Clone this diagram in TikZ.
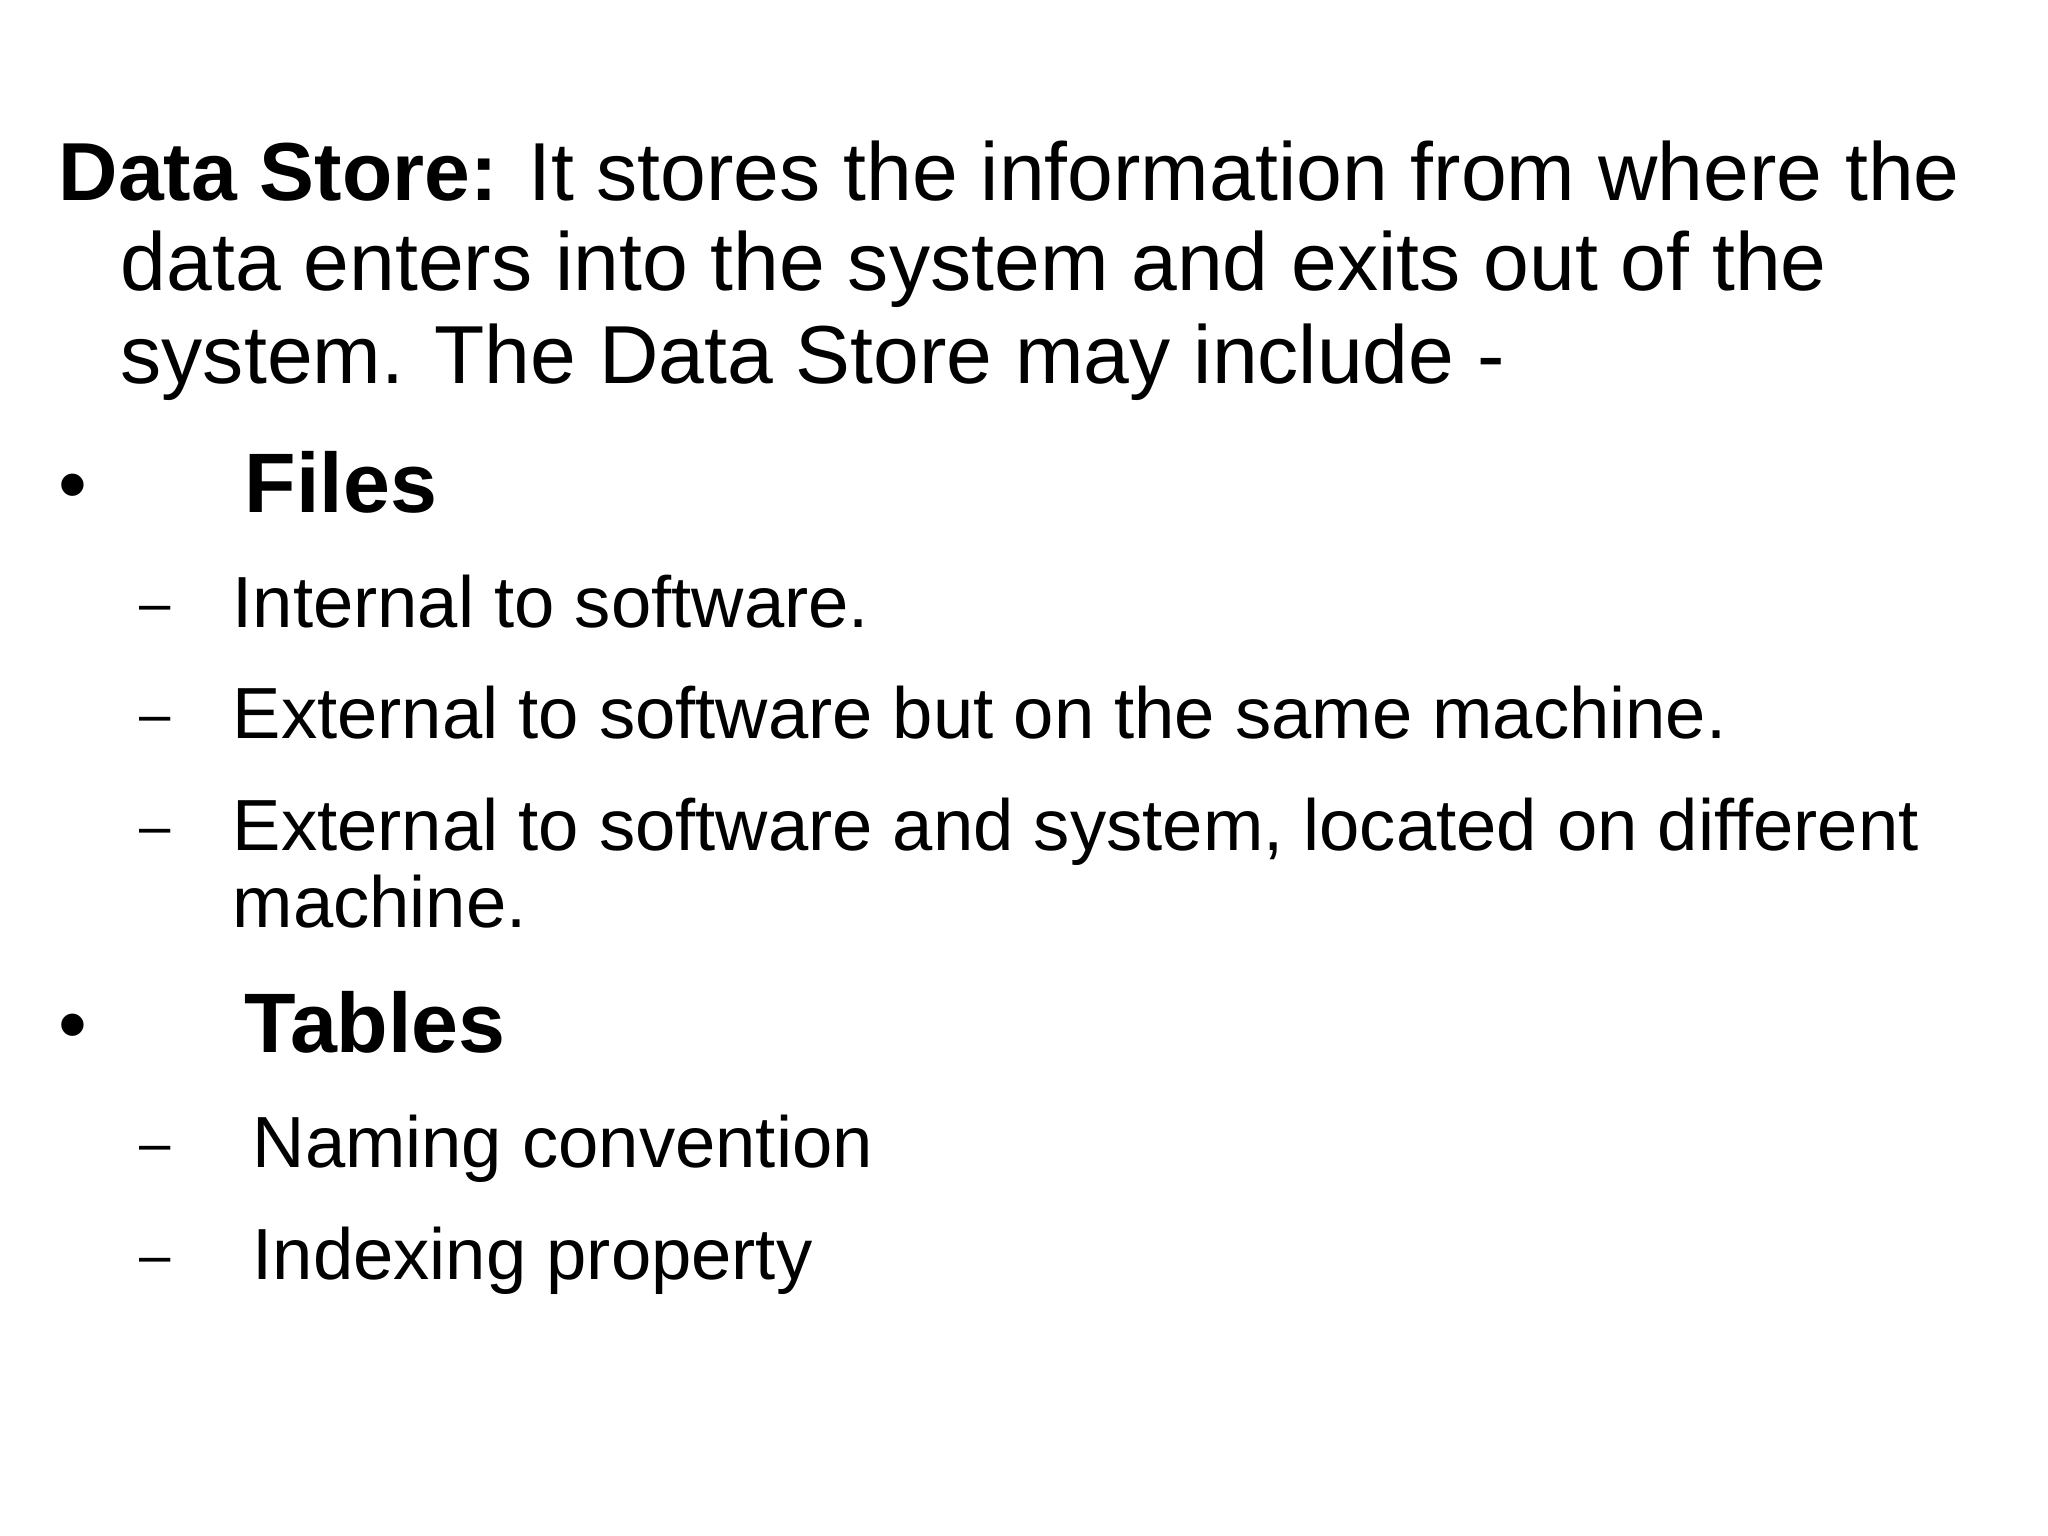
\documentclass[tikz,border=0pt]{standalone}
\usepackage{fontspec}
\setmainfont{Liberation Sans}
\begin{document}
\begin{tikzpicture}[x=0.01cm,y=-0.01cm,
  txt/.style={anchor=base west,inner sep=0pt,font=\fontsize{23.4}{27}\selectfont},
  hd/.style={anchor=base west,inner sep=0pt,font=\fontsize{24}{28}\bfseries\selectfont},
  sub/.style={anchor=base west,inner sep=0pt,font=\fontsize{20.6}{24}\selectfont},
  dsh/.style={anchor=base west,inner sep=0pt,font=\fontsize{16}{20}\selectfont}]
\useasboundingbox (0,0) rectangle (2048,1536);
\node[txt] (l1) at (58,200) {\textbf{Data Store:} It stores the information from where the};
\node[txt] (l2) at (120,290) {data enters into the system and exits out of the};
\node[txt] (l3) at (120,383) {system. The Data Store may include -};
\node[txt] (b1) at (58,512) {•};
\node[hd] (f) at (244,512) {Files};
\node[dsh] (d1) at (139,622) {–};
\node[sub] (f1) at (232,627) {Internal to software.};
\node[dsh] (d2) at (139,733) {–};
\node[sub] (f2) at (232,738) {External to software but on the same machine.};
\node[dsh] (d3) at (139,845) {–};
\node[sub] (f3) at (232,850) {External to software and system, located on different};
\node[sub] (f3b) at (232,927) {machine.};
\node[txt] (b2) at (58,1052) {•};
\node[hd] (t) at (244,1052) {Tables};
\node[dsh] (d4) at (139,1162) {–};
\node[sub] (t1) at (252,1167) {Naming convention};
\node[dsh] (d5) at (139,1274) {–};
\node[sub] (t2) at (252,1279) {Indexing property};
\end{tikzpicture}
\end{document}
